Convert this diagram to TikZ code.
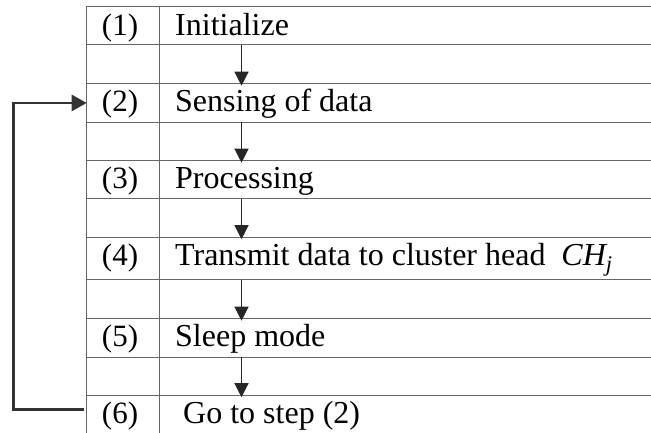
\documentclass[tikz,border=0pt]{standalone}
\usepackage{fontspec}
\setmainfont{Liberation Serif}
\usetikzlibrary{arrows.meta,positioning,calc}
\tikzset{cell/.style={draw=black!60,line width=1.4pt,minimum width=620pt,inner sep=0pt,outer sep=0pt,anchor=north west},
  grid/.style={draw=black!60,line width=1.4pt},
  num/.style={font=\fontsize{31}{31}\selectfont,anchor=base,inner sep=0pt},
  txt/.style={font=\fontsize{32}{32}\selectfont,anchor=base west,inner sep=0pt},
  arr/.style={-{Triangle[length=14pt,width=14pt]},line width=1.3pt,draw=black!85},
  back/.style={-{Triangle[length=15pt,width=16pt]},line width=2.8pt,draw=black!80}}
\begin{document}
\begin{tikzpicture}[x=1pt,y=-1pt]
\useasboundingbox (0,0) rectangle (651,432);
\clip (0,0) rectangle (651,432);
% rows of the table, steps (s) and gaps (g)
\node[cell,minimum height=38pt] (s1) at (86.7,6.7) {};
\node[cell,minimum height=39pt] (g1) at (s1.south west) {};
\node[cell,minimum height=38.5pt] (s2) at (g1.south west) {};
\node[cell,minimum height=38.5pt] (g2) at (s2.south west) {};
\node[cell,minimum height=38pt] (s3) at (g2.south west) {};
\node[cell,minimum height=38.5pt] (g3) at (s3.south west) {};
\node[cell,minimum height=42.5pt] (s4) at (g3.south west) {};
\node[cell,minimum height=39pt] (g4) at (s4.south west) {};
\node[cell,minimum height=38.5pt] (s5) at (g4.south west) {};
\node[cell,minimum height=38pt] (g5) at (s5.south west) {};
\node[cell,minimum height=45pt] (s6) at (g5.south west) {};
\draw[grid] (159.3,6.7) -- (159.3,440);
% step numbers and texts
\node[num] (n1) at (120,35) {(1)};
\node[num] (n2) at (120,111.7) {(2)};
\node[num] (n3) at (120,188.3) {(3)};
\node[num] (n4) at (120,265) {(4)};
\node[num] (n5) at (120,346.7) {(5)};
\node[num] (n6) at (120,423.3) {(6)};
\node[txt] (t1) at (175,35) {Initialize};
\node[txt] (t2) at (175,111.7) {Sensing of data};
\node[txt] (t3) at (175,188.3) {Processing};
\node[txt] (t4) at (175,265) {Transmit data to cluster head\ \ $\mathit{CH}_{\mathit{j}}$};
\node[txt] (t5) at (175,346.7) {Sleep mode};
\node[txt] (t6) at (183,423.3) {Go to step (2)};
% flow arrows
\coordinate (ax) at (241.5,0);
\draw[arr] (s1.south -| ax) -- ([yshift=-2pt]s2.north -| ax);
\draw[arr] (s2.south -| ax) -- ([yshift=-2pt]s3.north -| ax);
\draw[arr] (s3.south -| ax) -- ([yshift=-2pt]s4.north -| ax);
\draw[arr] (s4.south -| ax) -- ([yshift=-2pt]s5.north -| ax);
\draw[arr] (s5.south -| ax) -- ([yshift=-2pt]s6.north -| ax);
% loop back to step (2)
\coordinate (ret) at ([xshift=-3pt,yshift=-14.5pt]s6.north west);
\draw[back] (ret) -- ++(-70.4,0) |- (s2.west);
\end{tikzpicture}
\end{document}
